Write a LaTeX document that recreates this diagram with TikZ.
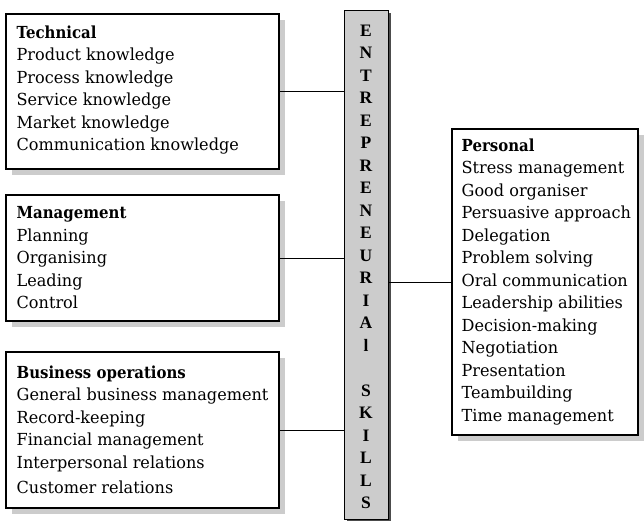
\documentclass[tikz,border=0pt]{standalone}
\usepackage{fontspec}
\setmainfont{DejaVu Serif}[FakeStretch=0.97]
\newfontfamily\headfont{DejaVu Serif}[FakeStretch=0.9]
\newfontfamily\barfont{Liberation Serif}
\usetikzlibrary{shadows}
\definecolor{boxshadow}{gray}{0.8}
\definecolor{barfill}{gray}{0.8}
\definecolor{barshadow}{gray}{0.3}
\newcommand\boxhead[1]{{\headfont\bfseries #1}}
\tikzset{
  skillbox/.style={draw=black, line width=1.1pt, fill=white, inner sep=0pt,
    drop shadow={shadow xshift=6pt, shadow yshift=-6pt, fill=boxshadow, opacity=1}},
  skilltext/.style={anchor=west, align=left, inner sep=0pt,
    font=\fontsize{16.6}{22.5}\selectfont},
  skillbar/.style={draw=black, line width=1pt, fill=barfill, inner sep=0pt,
    minimum width=44pt, minimum height=509pt,
    drop shadow={shadow xshift=3pt, shadow yshift=-3pt, fill=barshadow, opacity=1}},
  barletter/.style={inner sep=0pt, font=\barfont\bfseries\fontsize{17.5}{18}\selectfont},
  link/.style={draw=black, line width=1pt}
}
\begin{document}
\begin{tikzpicture}[x=1pt, y=-1pt]
  \useasboundingbox (0,0) rectangle (644,520);

  % skill groups on the left
  \node[skillbox, minimum width=273pt, minimum height=155pt] (tech) at (142.5,91.5) {};
  \node[skilltext] (techtxt) at ([xshift=11pt,yshift=1.5pt]tech.west) {\boxhead{Technical}\\
      Product knowledge\\ Process knowledge\\ Service knowledge\\
      Market knowledge\\ Communication knowledge};

  \node[skillbox, minimum width=273pt, minimum height=126pt] (mgmt) at (142.5,258) {};
  \node[skilltext] (mgmttxt) at ([xshift=11pt]mgmt.west) {\boxhead{Management}\\
      Planning\\ Organising\\ Leading\\ Control};

  \node[skillbox, minimum width=273pt, minimum height=156pt] (bus) at (142.5,430) {};
  \node[skilltext] (bustxt) at ([xshift=11pt]bus.west) {\boxhead{Business operations}\\
      General business management\\ Record-keeping\\ Financial management\\
      Interpersonal relations\\[3pt] Customer relations};

  % personal skills on the right
  \node[skillbox, minimum width=186pt, minimum height=306pt] (pers) at (545,282) {};
  \node[skilltext] (perstxt) at ([xshift=10pt]pers.west) {\boxhead{Personal}\\
      Stress management\\ Good organiser\\ Persuasive approach\\ Delegation\\
      Problem solving\\ Oral communication\\ Leadership abilities\\
      Decision-making\\ Negotiation\\ Presentation\\ Teambuilding\\
      Time management};

  % central vertical bar with its spelled-out title
  \node[skillbar] (bar) at (366,264.5) {};
  \foreach \ch [count=\i from 0] in {E,N,T,R,E,P,R,E,N,E,U,R,I,A,l,{},S,K,I,L,L,S}
    \node[barletter] (ch\i) at (366,{30.5+22.5*\i}) {\ch};

  % connectors
  \draw[link] (tech.east) -- (tech.east -| bar.west);
  \draw[link] (mgmt.east) -- (mgmt.east -| bar.west);
  \draw[link] (bus.east)  -- (bus.east -| bar.west);
  \draw[link] (pers.west) -- (pers.west -| bar.east);
\end{tikzpicture}
\end{document}
